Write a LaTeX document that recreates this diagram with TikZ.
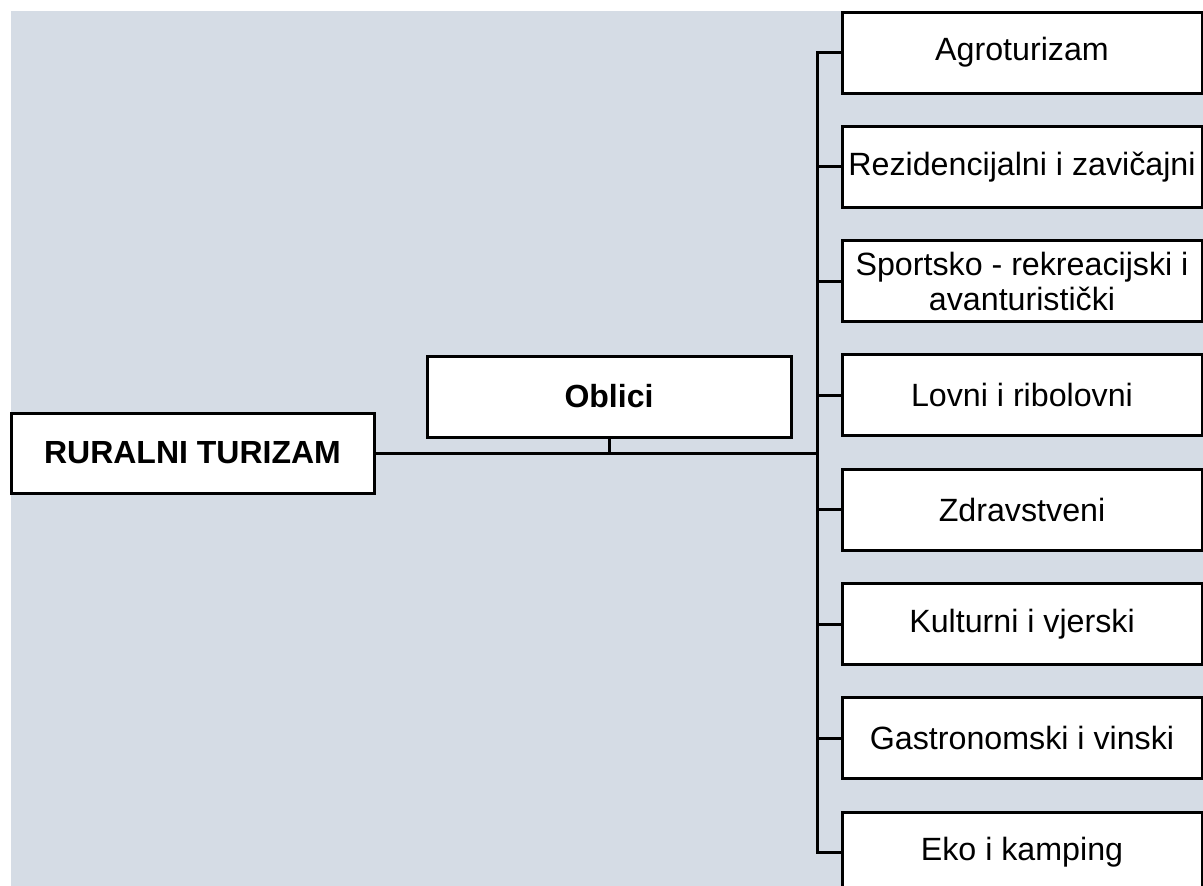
\documentclass[tikz,border=0pt]{standalone}
\usepackage{fontspec}
\setmainfont{Liberation Sans}
\usepackage{tikz}
\usetikzlibrary{positioning}
\definecolor{panel}{RGB}{213,220,229}

\begin{document}
\begin{tikzpicture}[x=1pt, y=-1pt, line width=3pt,
	every node/.style={rectangle,draw,fill=white,align=center,inner sep=0pt,minimum height=81pt,font=\fontsize{32.2}{35}\selectfont},
	form/.style={minimum width=360pt}, node distance=114.3pt]
	\path[use as bounding box, clip] (0,0) rectangle (1203,886);
	\fill[panel] (11,11) rectangle (1203,886);

	\node[minimum width=363pt, minimum height=80pt, font=\fontsize{32}{35}\selectfont\bfseries] (Ruralni) at (192.5,453) {RURALNI TURIZAM};
	\node[minimum width=364pt, font=\fontsize{32}{35}\selectfont\bfseries] (Oblici) at (609,396.5) {Oblici};

	\node[form] (Agro) at (1022,52.5) {Agroturizam};
	\node[form, below of=Agro] (Rezid) {Rezidencijalni i zavičajni};
	\node[form, below of=Rezid] (Sport) {Sportsko - rekreacijski i\\avanturistički};
	\node[form, below of=Sport] (Lovni) {Lovni i ribolovni};
	\node[form, below of=Lovni] (Zdrav) {Zdravstveni};
	\node[form, below of=Zdrav] (Kult) {Kulturni i vjerski};
	\node[form, below of=Kult] (Gastro) {Gastronomski i vinski};
	\node[form, below of=Gastro] (Eko) {Eko i kamping};

	\coordinate (Trunk) at (817.5,453);
	\draw (Ruralni.east) -- (Trunk);
	\draw (Oblici.south) -- (Oblici.south |- Trunk);
	\draw (Agro.west) -- (Agro.west -| Trunk) -- (Eko.west -| Trunk) -- (Eko.west);
	\foreach \n in {Rezid,Sport,Lovni,Zdrav,Kult,Gastro}
		\draw (\n.west) -- (\n.west -| Trunk);
\end{tikzpicture}
\end{document}
